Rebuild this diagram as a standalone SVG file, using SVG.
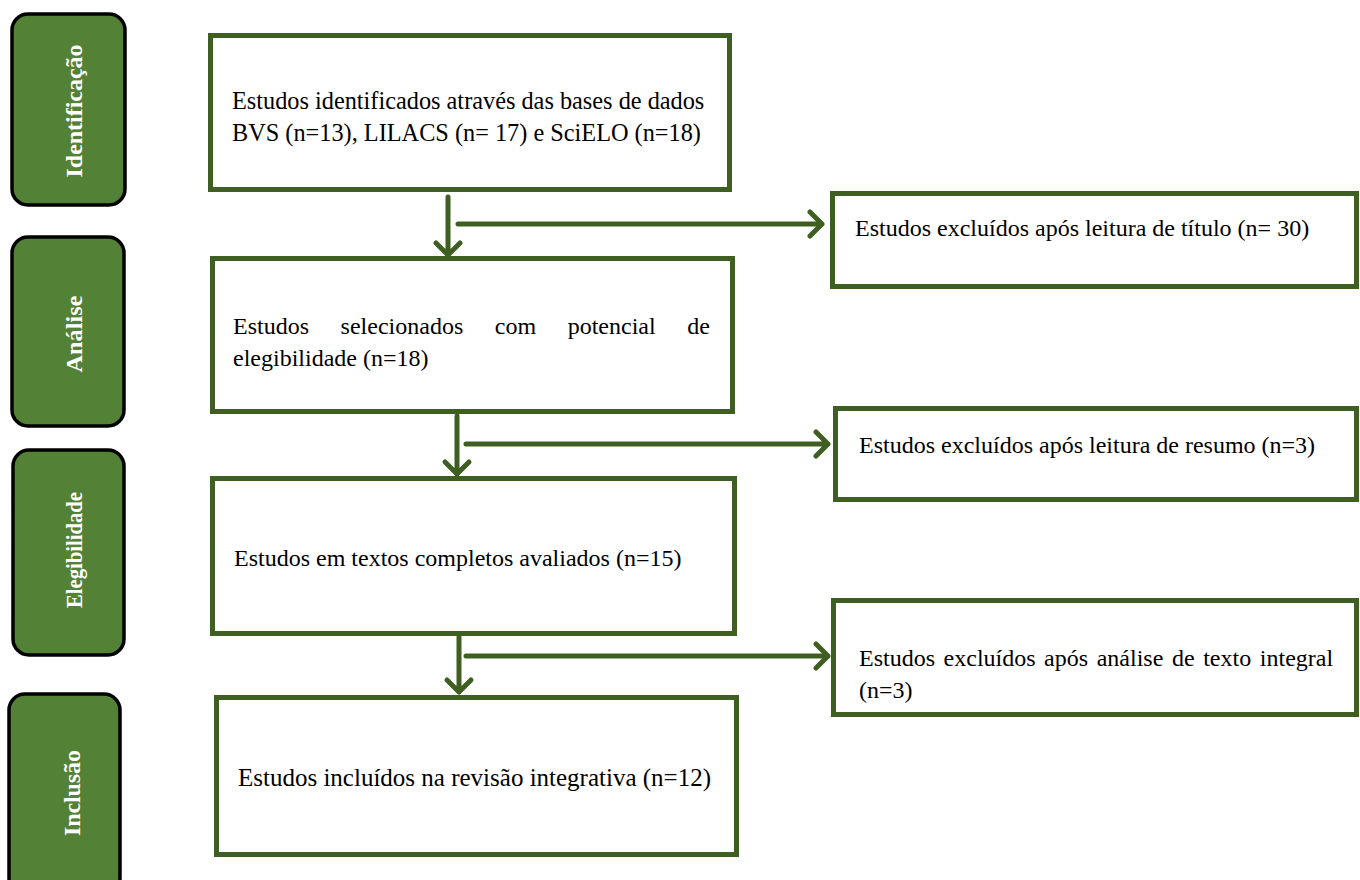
<svg xmlns="http://www.w3.org/2000/svg" width="1360" height="880" viewBox="0 0 1360 880">
<style>
.stage{fill:#538135;stroke:#000;stroke-width:3.5}
.stxt{font-family:"Liberation Serif","DejaVu Serif",serif;font-weight:bold;font-size:24px;fill:#fff}
.box{fill:#fff;stroke:#3F5F22;stroke-width:5}
.t{font-family:"Liberation Serif","DejaVu Serif",serif;font-size:24px;fill:#000}
.conn{fill:none;stroke:#3F5F22;stroke-width:5;stroke-linecap:round;stroke-linejoin:round}
</style>
<rect width="1360" height="880" fill="#fff"/>
<g id="stage-identificacao"><rect class="stage" x="12" y="14" width="113" height="191" rx="16"/><text class="stxt" transform="translate(82,111) rotate(-90)" text-anchor="middle" textLength="133" lengthAdjust="spacing">Identificação</text></g>
<g id="stage-analise"><rect class="stage" x="12" y="237" width="112" height="189" rx="16"/><text class="stxt" transform="translate(82,334) rotate(-90)" text-anchor="middle" textLength="77" lengthAdjust="spacing">Análise</text></g>
<g id="stage-elegibilidade"><rect class="stage" x="13" y="450" width="111" height="205" rx="16"/><text class="stxt" transform="translate(82,550) rotate(-90)" text-anchor="middle" textLength="116" lengthAdjust="spacingAndGlyphs">Elegibilidade</text></g>
<g id="stage-inclusao"><rect class="stage" x="9" y="694" width="111" height="200" rx="16"/><text class="stxt" transform="translate(80,793) rotate(-90)" text-anchor="middle" textLength="86" lengthAdjust="spacing">Inclusão</text></g>

<g id="box-identificados"><rect class="box" x="210.5" y="35.5" width="519" height="154"/>
<text class="t" x="232" y="109" style="font-size:24.3px">Estudos identificados através das bases de dados</text>
<text class="t" x="232" y="141" style="font-size:24.3px">BVS (n=13), LILACS (n= 17) e SciELO (n=18)</text></g>
<g id="box-selecionados"><rect class="box" x="212.5" y="258.5" width="520" height="153"/>
<text class="t" y="334"><tspan x="233">Estudos</tspan><tspan x="340.6">selecionados</tspan><tspan x="494.8">com</tspan><tspan x="567.7">potencial</tspan><tspan x="687.3">de</tspan></text>
<text class="t" x="233" y="366">elegibilidade (n=18)</text></g>
<g id="box-avaliados"><rect class="box" x="212.5" y="478.5" width="522" height="155"/>
<text class="t" x="234" y="566">Estudos em textos completos avaliados (n=15)</text></g>
<g id="box-incluidos"><rect class="box" x="216.5" y="697.5" width="520" height="157"/>
<text class="t" x="238" y="786" style="font-size:25px">Estudos incluídos na revisão integrativa (n=12)</text></g>

<g id="box-excl-titulo"><rect class="box" x="832.5" y="193.5" width="524" height="93"/>
<text class="t" x="855" y="236">Estudos excluídos após leitura de título (n= 30)</text></g>
<g id="box-excl-resumo"><rect class="box" x="835.5" y="408.5" width="521" height="91"/>
<text class="t" x="859" y="453">Estudos excluídos após leitura de resumo (n=3)</text></g>
<g id="box-excl-integral"><rect class="box" x="833.5" y="600.5" width="523" height="114"/>
<text class="t" y="666"><tspan x="859">Estudos</tspan><tspan x="943.6">excluídos</tspan><tspan x="1044.1">após</tspan><tspan x="1096.7">análise</tspan><tspan x="1171.9">de</tspan><tspan x="1203.2">texto</tspan><tspan x="1259.8">integral</tspan></text>
<text class="t" x="859" y="698">(n=3)</text></g>

<g id="connectors">
<path class="conn" d="M448 197V255M436 243L448 255L460 243"/>
<path class="conn" d="M458 224H822M810 212L822 224L810 236"/>
<path class="conn" d="M457 416V474M445 462L457 474L469 462"/>
<path class="conn" d="M466 444H828M816 432L828 444L816 456"/>
<path class="conn" d="M459 637V692M447 680L459 692L471 680"/>
<path class="conn" d="M466 656H828M816 644L828 656L816 668"/>
</g>
</svg>
